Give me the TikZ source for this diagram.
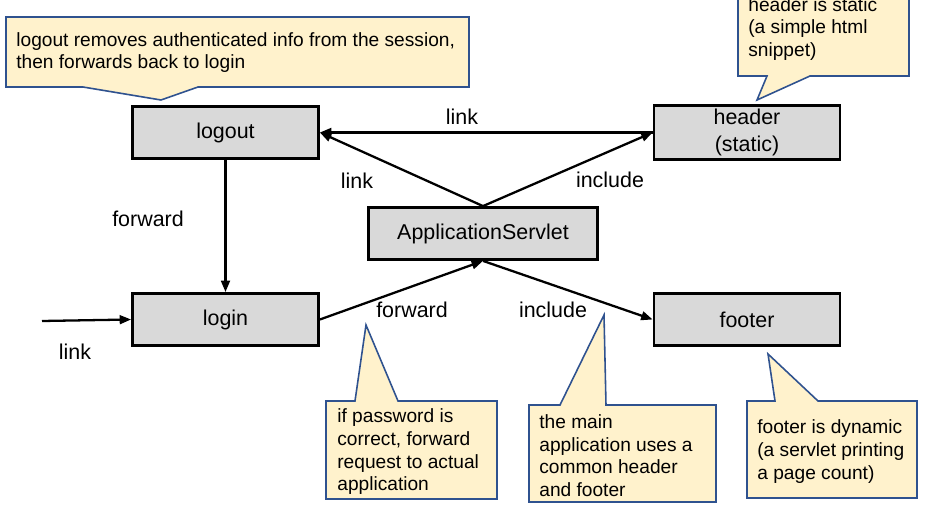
\documentclass[tikz,border=0pt]{standalone}
\usepackage{fontspec}
\setmainfont{Liberation Sans}
\usetikzlibrary{arrows.meta}

\definecolor{boxgray}{HTML}{D9D9D9}
\definecolor{notefill}{HTML}{FFF2CC}
\definecolor{noteline}{HTML}{2F528F}

\begin{document}
\begin{tikzpicture}[x=0.02cm,y=-0.02cm,
  component/.style={draw,line width=1.6pt,fill=boxgray,align=center,
    minimum width=3.72cm,minimum height=1.04cm,inner sep=2pt,
    font=\fontsize{12.2}{15.3}\selectfont},
  flow/.style={-{Triangle[length=6.5pt,width=5pt]},line width=1.3pt},
  edgelabel/.style={font=\fontsize{12.2}{14}\selectfont,inner sep=1pt},
  note/.style={draw=noteline,fill=notefill,line width=.9pt},
  notetext/.style={anchor=west,align=left,inner sep=0pt,
    font=\fontsize{10.9}{12.9}\selectfont}
]
\useasboundingbox (0,0) rectangle (926,506);

% Callouts behind everything else.
\draw[note] (6,17) -- (469,17) -- (469,87) -- (198,87) -- (161,100)
  -- (83,87) -- (6,87) -- cycle;
\node[notetext] (notelogout) at (16,52.5)
  {logout removes authenticated info from the session,\\
   then forwards back to login};
\draw[note] (738,-5) -- (909,-5) -- (909,76) -- (810,76) -- (757,100)
  -- (767,76) -- (738,76) -- cycle;
\node[notetext] (noteheader) at (748,29)
  {header is static\\(a simple html\\snippet)};
\draw[note] (326,401) -- (355,401) -- (366,325) -- (398,401) -- (497,401)
  -- (497,499) -- (326,499) -- cycle;
\node[notetext] (notelogin) at (337,452)
  {if password is\\correct, forward\\request to actual\\application};
\draw[note] (529,405) -- (560,405) -- (604,315) -- (606,405) -- (716,405)
  -- (716,502) -- (529,502) -- cycle;
\node[notetext] (noteapp) at (539,455.5)
  {the main\\application uses a\\common header\\and footer};
\draw[note] (747,401) -- (775,401) -- (768,354) -- (818,401) -- (917,401)
  -- (917,498) -- (747,498) -- cycle;
\node[notetext] (notefooter) at (757,451.5)
  {footer is dynamic\\(a servlet printing\\a page count)};

% The five components.
\node[component] (logout) at (225.5,132.5) {logout};
\node[component] (header) at (747,132.5) {header\\(static)};
\node[component,minimum width=4.58cm] (servlet) at (483,233.5)
  {ApplicationServlet};
\node[component] (login) at (225.5,319.5) {login};
\node[component] (footer) at (747,319.5) {footer};
\coordinate (entry) at (42,321);

% Links, forwards and includes.
\draw[flow] (header.west) -- (logout.east);
\draw[flow] (servlet.north) -- (logout.east);
\draw[flow] (servlet.north) -- (header.west);
\draw[flow] (logout.south) -- (login.north);
\draw[flow] (entry) -- (login.west);
\draw[flow] (login.east) -- (servlet.south);
\draw[flow] (servlet.south) -- (footer.west);

\node[edgelabel] (linktop) at (462,117) {link};
\node[edgelabel] (linkmid) at (357,181) {link};
\node[edgelabel] (includetop) at (610,180) {include};
\node[edgelabel] (forwardleft) at (148,219) {forward};
\node[edgelabel] (linkentry) at (75,352) {link};
\node[edgelabel] (forwardmid) at (412,310) {forward};
\node[edgelabel] (includemid) at (553,310) {include};
\end{tikzpicture}
\end{document}
